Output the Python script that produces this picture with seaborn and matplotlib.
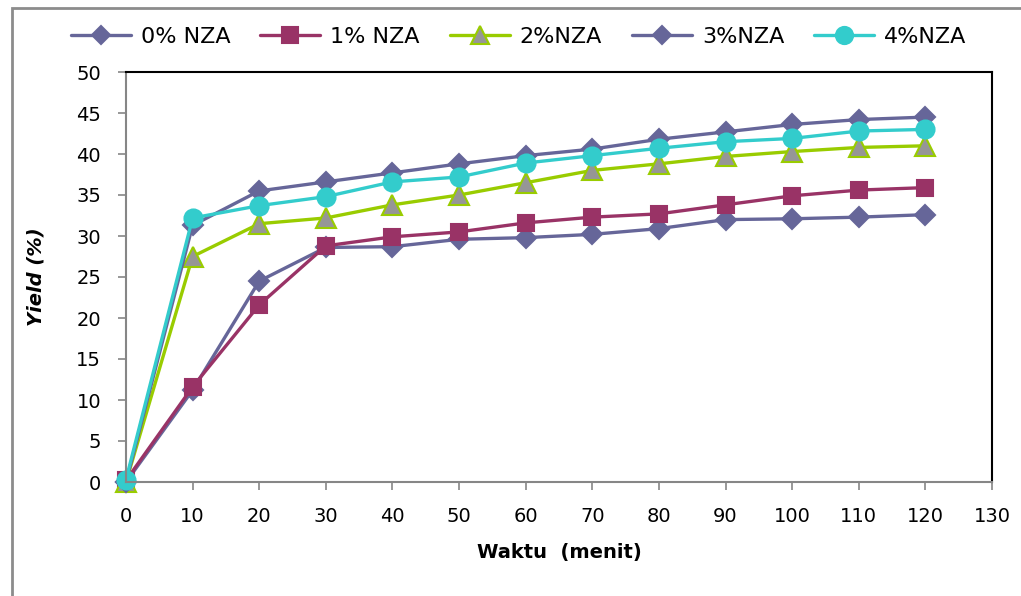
import matplotlib
matplotlib.use("Agg")
import matplotlib.pyplot as plt
import seaborn as sns
import pandas as pd
from matplotlib.lines import Line2D
from matplotlib.patches import Rectangle

time_min = [0, 10, 20, 30, 40, 50, 60, 70, 80, 90, 100, 110, 120]
series_names = ["0% NZA", "1% NZA", "2%NZA", "3%NZA", "4%NZA"]
yield_0 = [0.0, 11.2, 24.5, 28.6, 28.7, 29.6, 29.8, 30.2, 30.9, 32.0, 32.1, 32.3, 32.6]
yield_1 = [0.2, 11.6, 21.6, 28.8, 29.9, 30.5, 31.6, 32.3, 32.7, 33.8, 34.9, 35.6, 35.9]
yield_2 = [0.0, 27.5, 31.5, 32.2, 33.8, 35.0, 36.5, 38.0, 38.8, 39.7, 40.3, 40.8, 41.0]
yield_3 = [0.0, 31.3, 35.5, 36.6, 37.7, 38.8, 39.8, 40.6, 41.8, 42.7, 43.6, 44.2, 44.5]
yield_4 = [0.3, 32.2, 33.7, 34.8, 36.6, 37.2, 38.9, 39.8, 40.7, 41.5, 41.9, 42.8, 43.0]
x_ticks = list(range(0, 131, 10))
y_ticks = list(range(0, 51, 5))

values = [yield_0, yield_1, yield_2, yield_3, yield_4]
df = pd.DataFrame({
    "Waktu": time_min * len(series_names),
    "Yield": [v for vals in values for v in vals],
    "Seri": [n for n in series_names for _ in time_min],
})

styles = {
    "0% NZA": dict(color="#666699", marker="D", mfc="#666699", mec="#666699", ms=10),
    "1% NZA": dict(color="#993366", marker="s", mfc="#993366", mec="#993366", ms=12),
    "2%NZA": dict(color="#99CC00", marker="^", mfc="#969696", mec="#99CC00", ms=14),
    "3%NZA": dict(color="#666699", marker="D", mfc="#666699", mec="#666699", ms=10),
    "4%NZA": dict(color="#33CCCC", marker="o", mfc="#33CCCC", mec="#33CCCC", ms=13),
}

sns.set_theme(style="white")
plt.rcParams["font.family"] = ["DejaVu Sans"]
plt.rcParams["text.color"] = "black"

fig = plt.figure(figsize=(10.21, 5.96), dpi=100)
ax = fig.add_axes([126 / 1021, 1 - 482 / 596, (992 - 126) / 1021, (482 - 72) / 596])

handles = []
for name in series_names:
    st = styles[name]
    sub = df[df["Seri"] == name]
    sns.lineplot(data=sub, x="Waktu", y="Yield", ax=ax, color=st["color"],
                 marker=st["marker"], markersize=st["ms"],
                 markerfacecolor=st["mfc"], markeredgecolor=st["mec"],
                 markeredgewidth=1.5, linewidth=2.4, legend=False, clip_on=False)
    handles.append(Line2D([], [], color=st["color"], marker=st["marker"],
                          markersize=st["ms"] * 0.95, markerfacecolor=st["mfc"],
                          markeredgecolor=st["mec"], markeredgewidth=1.5, linewidth=2.4))

ax.set_xlim(0, 130)
ax.set_ylim(0, 50)
ax.set_xticks(x_ticks)
ax.set_yticks(y_ticks)
ax.tick_params(axis="both", direction="out", length=6, width=1.2, color="#868686",
               labelsize=14, labelcolor="black")
ax.tick_params(axis="x", pad=12)
ax.tick_params(axis="y", pad=12)
ax.tick_params(bottom=True, left=True)
for side in ["left", "bottom"]:
    ax.spines[side].set_color("#868686")
    ax.spines[side].set_linewidth(1.5)
for side in ["top", "right"]:
    ax.spines[side].set_color("black")
    ax.spines[side].set_linewidth(1.5)
ax.grid(False)

ax.set_xlabel("Waktu  (menit)", fontsize=14, fontweight="bold", labelpad=12, color="black")
ax.set_ylabel("Yield (%)", fontsize=14, fontweight="bold", style="italic", labelpad=22,
              color="black")

leg = fig.legend(handles, series_names, loc="center", bbox_to_anchor=(0.508, 1 - 37 / 596),
                 ncol=5, frameon=False, handlelength=2.7, columnspacing=1.35,
                 handletextpad=0.45, prop={"family": "DejaVu Sans", "size": 16})
for t in leg.get_texts():
    t.set_color("black")

frame = Rectangle((12 / 1021, -0.1), 1.2, (1 - 8 / 596) + 0.1, transform=fig.transFigure,
                  fill=False, edgecolor="#8c8c8c", linewidth=2)
fig.patches.append(frame)

fig.savefig("out.png", dpi=100)
